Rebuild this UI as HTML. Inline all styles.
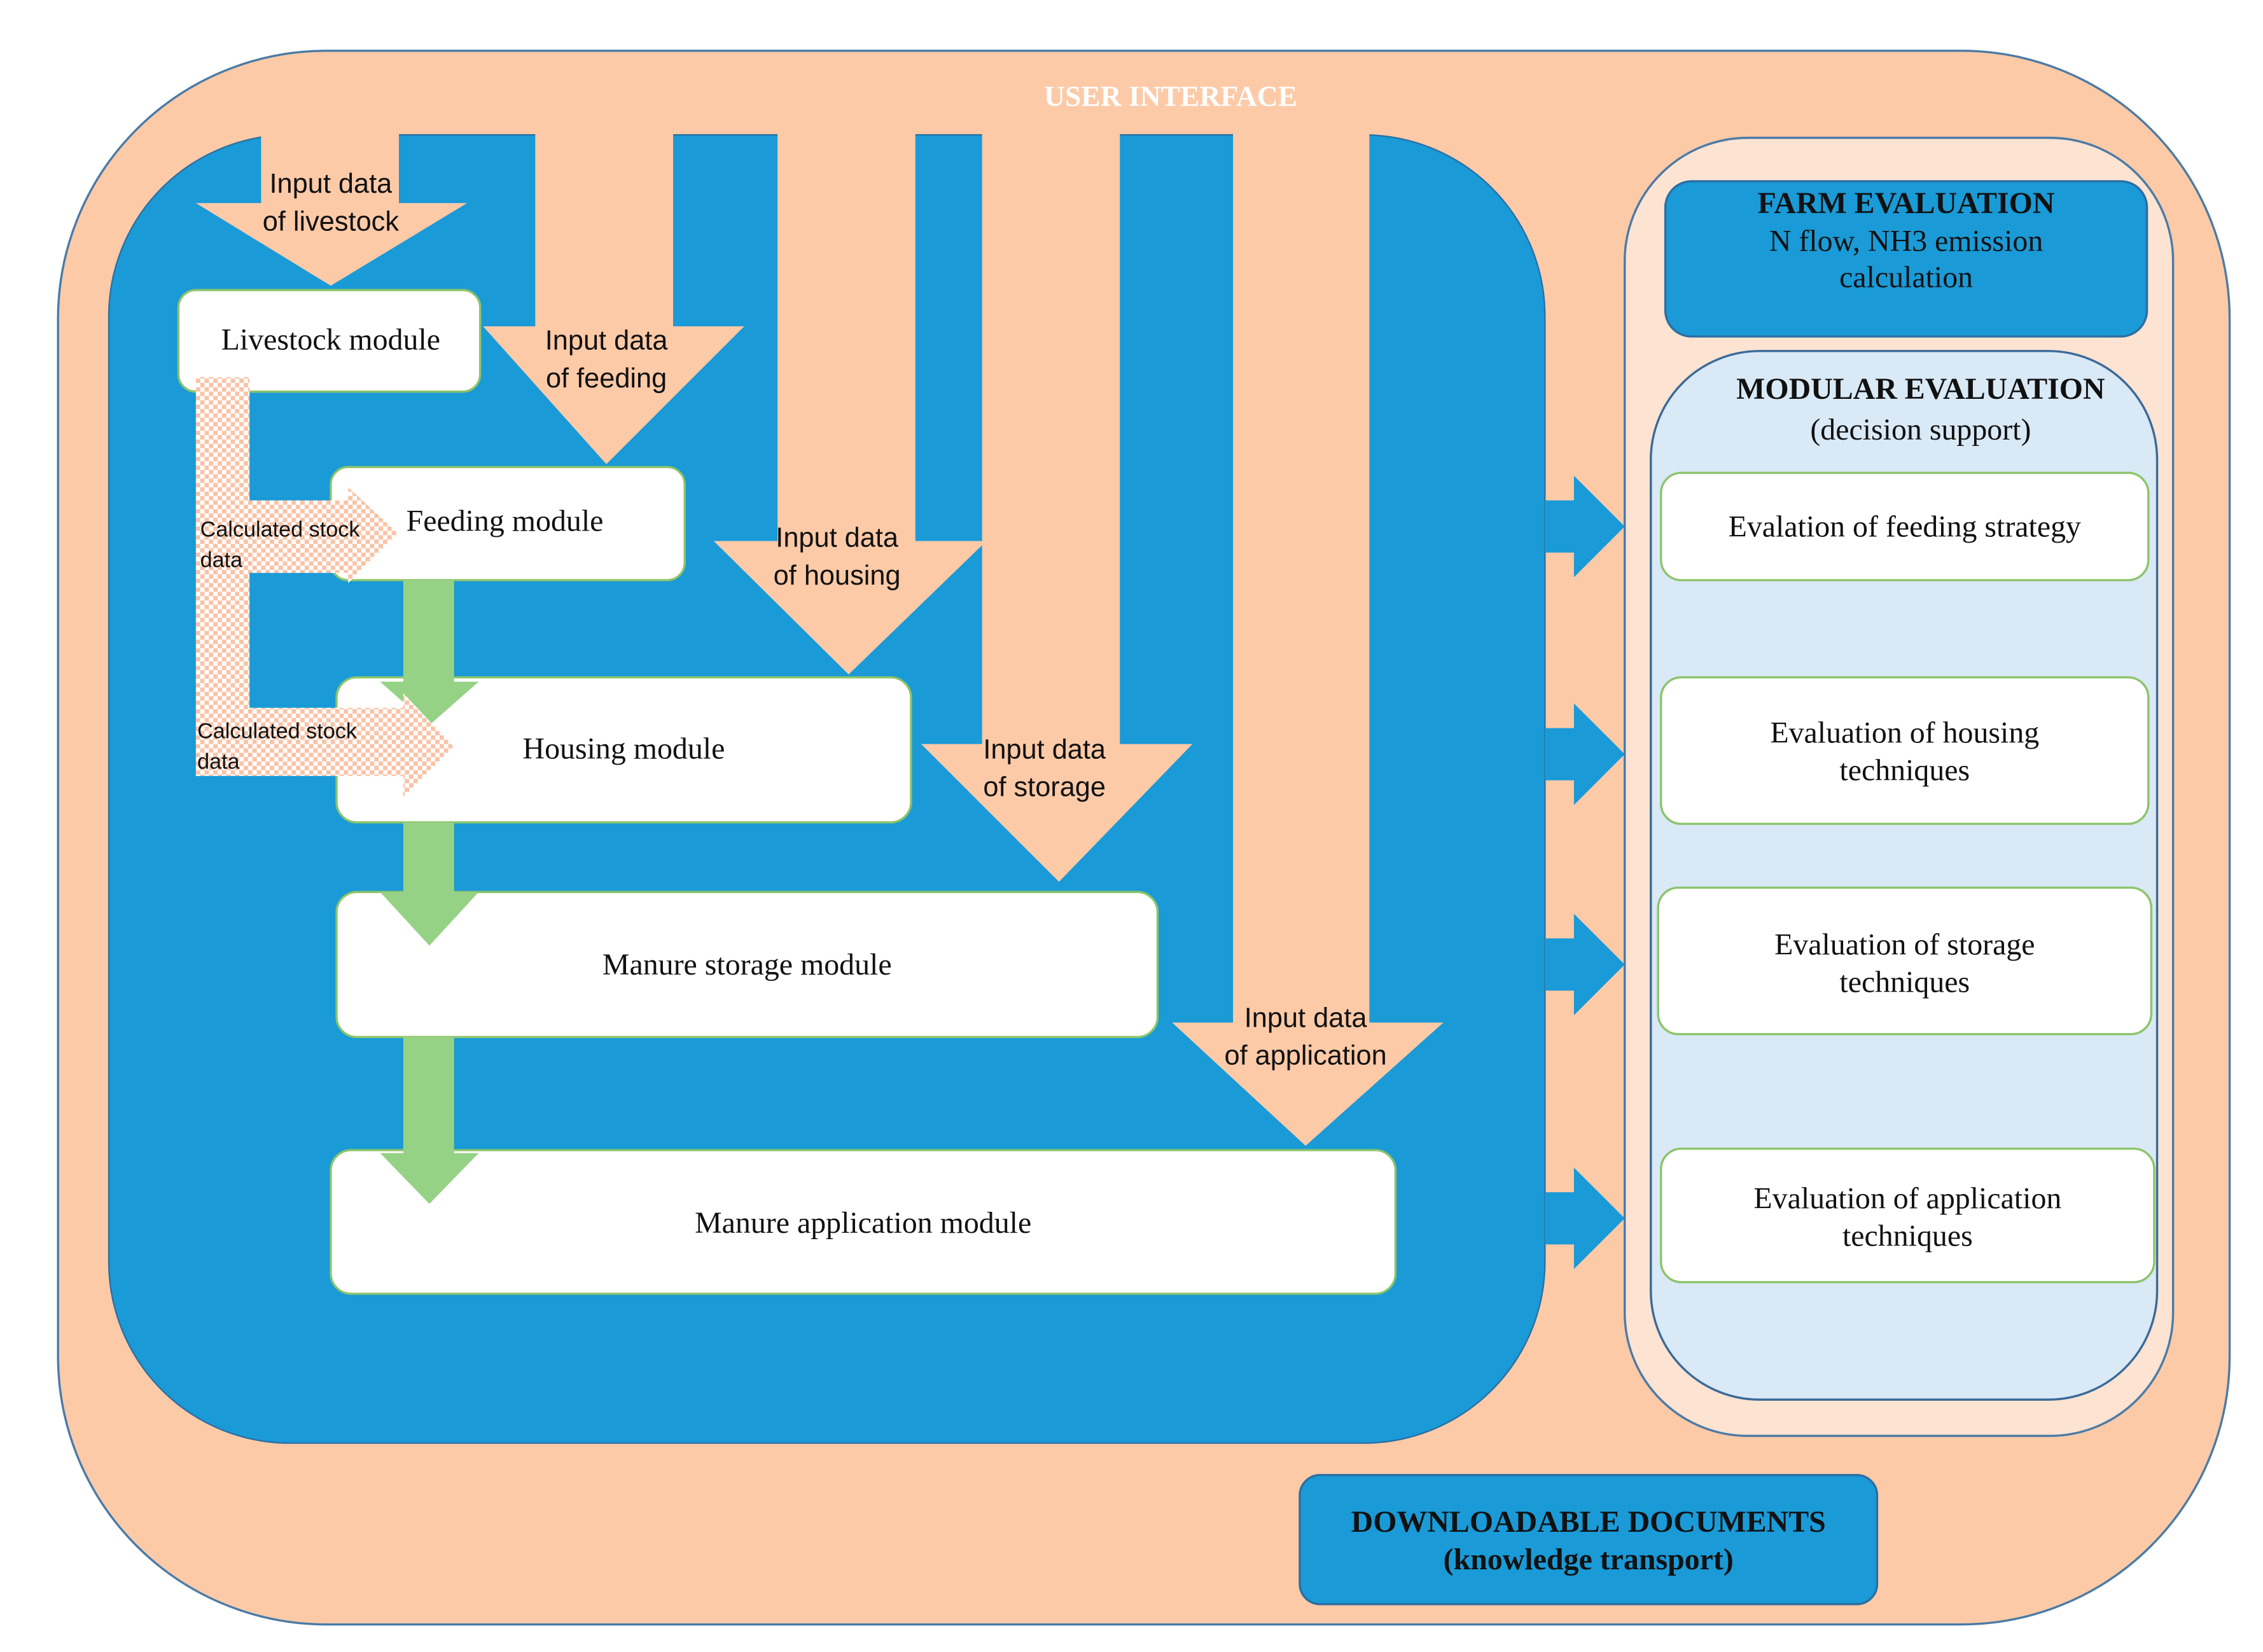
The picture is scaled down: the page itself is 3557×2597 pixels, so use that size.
<!DOCTYPE html>
<html><head><meta charset="utf-8"><style>html,body{margin:0;padding:0;background:#fff}svg{display:block}</style></head>
<body>
<svg xmlns="http://www.w3.org/2000/svg" width="3557" height="2597" viewBox="0 0 1560 1139" preserveAspectRatio="none">
<defs>
<pattern id="chk" width="6" height="6" patternUnits="userSpaceOnUse">
<rect width="6" height="6" fill="#fff"/><rect width="3" height="3" fill="#f9c3a6"/><rect x="3" y="3" width="3" height="3" fill="#f9c3a6"/>
</pattern>
</defs>
<rect width="1560" height="1139" fill="#fff"/>
<rect x="40" y="35" width="1497" height="1085" rx="185" fill="#fdcaa8" stroke="#4b7ba6" stroke-width="1.5"/>
<text x="807" y="73" text-anchor="middle" font-family="Liberation Serif, serif" font-weight="bold" font-size="20" fill="#fff">USER INTERFACE</text>
<rect x="75" y="93" width="990" height="902" rx="125" fill="#1a9ad7" stroke="#2a6fa3" stroke-width="1"/>
<g fill="#fdcaa8">
<rect x="180" y="88" width="95" height="55"/>
<polygon points="135,140 322,140 228,197"/>
<rect x="369" y="88" width="95" height="140"/>
<polygon points="333,225 513,225 418,320"/>
<rect x="536" y="88" width="95" height="288"/>
<polygon points="492,373 680,373 585,465"/>
<rect x="677" y="88" width="95" height="428"/>
<polygon points="635,513 822,513 730,608"/>
<rect x="850" y="88" width="94" height="620"/>
<polygon points="808,705 995,705 900,790"/>
</g>
<g font-family="Liberation Sans Narrow, Liberation Sans, sans-serif" font-size="19" fill="#111" text-anchor="middle">
<text x="228" y="133">Input data</text><text x="228" y="159">of livestock</text>
<text x="418" y="241">Input data</text><text x="418" y="267">of feeding</text>
<text x="577" y="377">Input data</text><text x="577" y="403">of housing</text>
<text x="720" y="523">Input data</text><text x="720" y="549">of storage</text>
<text x="900" y="708">Input data</text><text x="900" y="734">of application</text>
</g>
<g fill="#fff" stroke="#8cc46a" stroke-width="1.5">
<rect x="123" y="200" width="208" height="70" rx="12"/>
<rect x="228" y="322" width="244" height="78" rx="12"/>
<rect x="232" y="467" width="396" height="100" rx="14"/>
<rect x="232" y="615" width="566" height="100" rx="14"/>
<rect x="228" y="793" width="734" height="99" rx="14"/>
</g>
<g fill="#96d286">
<rect x="278" y="400" width="35" height="72"/><polygon points="262,470 330,470 296,500"/>
<rect x="278" y="567" width="35" height="50"/><polygon points="262,615 330,615 296,652"/>
<rect x="278" y="715" width="35" height="82"/><polygon points="262,795 330,795 296,830"/>
</g>
<g fill="url(#chk)">
<rect x="135" y="260" width="37" height="275"/>
<rect x="172" y="345" width="70" height="50"/><polygon points="240,336 275,368 240,402"/>
<rect x="172" y="488" width="108" height="47"/><polygon points="278,478 313,515 278,550"/>
</g>
<g font-family="Liberation Sans Narrow, Liberation Sans, sans-serif" font-size="15" fill="#111">
<text x="138" y="370">Calculated stock</text><text x="138" y="391">data</text>
<text x="136" y="509">Calculated stock</text><text x="136" y="530">data</text>
</g>
<g font-family="Liberation Serif, serif" font-size="21" fill="#111" text-anchor="middle">
<text x="228" y="241">Livestock  module</text>
<text x="348" y="366">Feeding module</text>
<text x="430" y="523">Housing module</text>
<text x="515" y="672">Manure storage module</text>
<text x="595" y="850">Manure application module</text>
</g>
<g fill="#1a9ad7">
<rect x="1065" y="345" width="22" height="36"/><polygon points="1085,328 1120,363 1085,398"/>
<rect x="1065" y="502" width="22" height="36"/><polygon points="1085,485 1120,520 1085,555"/>
<rect x="1065" y="647" width="22" height="36"/><polygon points="1085,630 1120,665 1085,700"/>
<rect x="1065" y="822" width="22" height="36"/><polygon points="1085,805 1120,840 1085,875"/>
</g>
<rect x="1120" y="95" width="378" height="895" rx="85" fill="#fde3d2" stroke="#4b7ba6" stroke-width="1.5"/>
<rect x="1148" y="125" width="332" height="107" rx="18" fill="#1a9ad7" stroke="#2a6fa3" stroke-width="1.5"/>
<g font-family="Liberation Serif, serif" font-size="21" fill="#111" text-anchor="middle">
<text x="1314" y="147" font-weight="bold">FARM EVALUATION</text>
<text x="1314" y="173">N flow, NH3 emission</text>
<text x="1314" y="198">calculation</text>
</g>
<rect x="1138" y="242" width="349" height="723" rx="75" fill="#d9e9f6" stroke="#3a6a99" stroke-width="1.5"/>
<g font-family="Liberation Serif, serif" font-size="21" fill="#111" text-anchor="middle">
<text x="1324" y="275" font-weight="bold">MODULAR EVALUATION</text>
<text x="1324" y="303">(decision support)</text>
</g>
<g fill="#fff" stroke="#8cc46a" stroke-width="1.5">
<rect x="1145" y="326" width="336" height="74" rx="14"/>
<rect x="1145" y="467" width="336" height="101" rx="14"/>
<rect x="1143" y="612" width="340" height="101" rx="14"/>
<rect x="1145" y="792" width="340" height="92" rx="14"/>
</g>
<g font-family="Liberation Serif, serif" font-size="21" fill="#111" text-anchor="middle">
<text x="1313" y="370">Evalation of feeding strategy</text>
<text x="1313" y="512">Evaluation of housing</text><text x="1313" y="538">techniques</text>
<text x="1313" y="658">Evaluation of storage</text><text x="1313" y="684">techniques</text>
<text x="1315" y="833">Evaluation of application</text><text x="1315" y="859">techniques</text>
</g>
<rect x="896" y="1017" width="398" height="89" rx="14" fill="#1a9ad7" stroke="#2a6fa3" stroke-width="1.5"/>
<g font-family="Liberation Serif, serif" font-size="21" fill="#111" text-anchor="middle" font-weight="bold">
<text x="1095" y="1056">DOWNLOADABLE DOCUMENTS</text>
<text x="1095" y="1082">(knowledge transport)</text>
</g>
</svg>
</body></html>
